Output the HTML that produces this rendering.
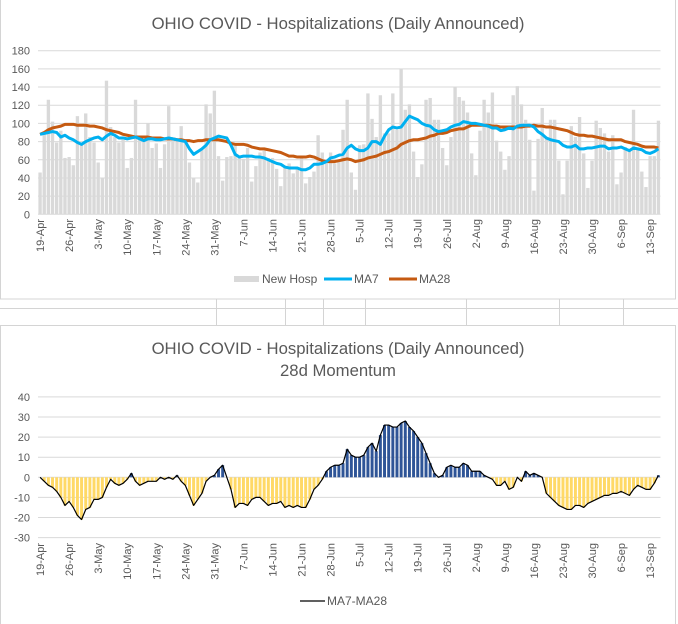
<!DOCTYPE html>
<html><head><meta charset="utf-8"><style>
body{margin:0;background:#fff;width:678px;height:624px;overflow:hidden;font-family:"Liberation Sans",sans-serif}
svg{display:block}
text{font-family:"Liberation Sans",sans-serif}
</style></head><body>
<svg id="s" width="678" height="624">
<g stroke="#d4d4d4" stroke-width="1">
<line x1="0" y1="308.5" x2="678" y2="308.5"/>
<line x1="216.5" y1="299" x2="216.5" y2="325"/><line x1="285.5" y1="299" x2="285.5" y2="325"/>
<line x1="323.5" y1="299" x2="323.5" y2="325"/><line x1="365.5" y1="299" x2="365.5" y2="325"/>
<line x1="466.5" y1="299" x2="466.5" y2="325"/><line x1="559.5" y1="299" x2="559.5" y2="325"/>
<line x1="623.5" y1="299" x2="623.5" y2="325"/>
</g>
<rect x="0.5" y="-1" width="675" height="300" fill="#fff" stroke="#d4d4d4"/>
<rect x="0.5" y="325.5" width="675" height="300" fill="#fff" stroke="#d4d4d4"/>
<text x="338" y="29" text-anchor="middle" font-size="16.7" fill="#595959">OHIO COVID - Hospitalizations (Daily Announced)</text>
<text x="338" y="354" text-anchor="middle" font-size="16.7" fill="#595959">OHIO COVID - Hospitalizations (Daily Announced)</text>
<text x="338" y="376" text-anchor="middle" font-size="16.7" fill="#595959">28d Momentum</text>
<g id="topg"></g>
<g id="botg"></g>
<g>
<rect x="234" y="276" width="25" height="6" fill="#d9d9d9"/>
<text x="262" y="283" font-size="12" fill="#595959">New Hosp</text>
<line x1="324" y1="279" x2="352" y2="279" stroke="#00b0f0" stroke-width="3"/>
<text x="354" y="283" font-size="12" fill="#595959">MA7</text>
<line x1="389" y1="279" x2="417" y2="279" stroke="#c55a11" stroke-width="3"/>
<text x="419" y="283" font-size="12" fill="#595959">MA28</text>
</g>
<g>
<line x1="300" y1="601" x2="325" y2="601" stroke="#000" stroke-width="1.2"/>
<text x="327" y="605" font-size="12" fill="#595959">MA7-MA28</text>
</g>
</svg>
<script>
const newHosp=[46,88,126,102,79,92,62,63,54,108,78,111,85,79,57,40,147,96,85,79,82,51,62,126,82,80,100,73,78,51,77,119,83,83,97,82,57,40,35,72,121,111,136,64,37,63,64,77,62,61,73,36,53,68,70,62,62,50,31,53,56,45,50,62,34,41,47,87,68,56,68,56,60,93,126,46,27,76,77,133,105,85,131,89,89,133,93,160,115,121,69,41,55,126,128,104,104,73,54,85,140,129,125,112,67,43,92,126,112,134,81,69,49,64,131,141,121,104,82,26,83,117,85,104,104,59,22,59,97,85,107,67,29,59,103,95,89,69,87,33,46,74,71,115,71,47,30,64,64,103];
const ma7=[88,89,90,91,90,85,87,84,82,79,77,80,82,84,85,82,86,89,87,84,84,83,84,85,83,81,83,83,82,82,83,84,83,82,81,80,72,66,69,72,76,82,84,86,85,84,76,66,63,64,64,64,63,63,62,60,58,56,55,52,51,51,51,49,49,51,55,55,56,58,62,63,65,66,73,76,72,70,70,73,80,80,77,86,93,96,95,96,102,108,106,104,100,98,97,93,91,92,93,96,98,99,102,101,100,100,99,98,97,95,95,92,93,95,94,97,98,98,98,96,91,88,84,82,81,80,76,74,74,76,72,72,73,73,74,75,75,72,73,73,74,72,70,73,72,71,68,67,69,72];
const ma28=[88,90,93,95,96,97,99,99,99,98,98,98,97,97,96,95,93,92,91,90,88,87,86,85,85,85,85,84,84,84,83,83,83,82,82,81,81,80,81,81,82,82,82,82,81,80,78,77,77,77,76,74,73,72,72,71,70,69,68,66,64,64,63,63,63,64,63,61,59,58,58,58,59,60,61,60,58,59,60,62,63,64,66,68,69,71,73,77,79,81,82,82,83,84,86,87,89,89,90,92,93,94,94,96,98,98,98,98,98,97,97,96,96,96,96,96,96,97,97,98,97,97,96,96,95,94,93,92,90,88,87,87,86,86,85,84,83,82,82,82,82,80,79,78,77,75,74,74,74,73];
const momentum=[0,-2,-4,-5,-7,-10,-14,-12,-15,-19,-21,-16,-15,-11,-11,-10,-5,-1,-3,-4,-3,-1,2,-2,-4,-3,-2,-2,-2,0,-1,0,-1,1,-2,-4,-9,-14,-11,-8,-2,0,1,4,6,0,-6,-15,-13,-13,-14,-11,-10,-10,-12,-14,-13,-13,-12,-15,-14,-15,-14,-15,-15,-11,-6,-4,-1,3,5,6,6,7,14,11,10,10,11,15,17,13,21,26,26,25,25,27,28,25,23,20,17,12,7,2,0,1,5,6,5,5,7,6,3,3,3,1,0,-1,-4,-4,-2,-6,-5,0,-2,3,1,2,1,0,-8,-10,-12,-14,-15,-16,-16,-14,-14,-15,-13,-12,-11,-10,-9,-9,-8,-8,-7,-8,-9,-6,-4,-5,-6,-6,-3,1];
const dateLabels=["19-Apr","26-Apr","3-May","10-May","17-May","24-May","31-May","7-Jun","14-Jun","21-Jun","28-Jun","5-Jul","12-Jul","19-Jul","26-Jul","2-Aug","9-Aug","16-Aug","23-Aug","30-Aug","6-Sep","13-Sep"];
const topTicks=[0,20,40,60,80,100,120,140,160,180];
const botTicks=[-30,-20,-10,0,10,20,30,40];

const NS="http://www.w3.org/2000/svg";
const X0=38,X1=660.5,N=newHosp.length,W=(X1-X0)/N;
function xc(i){return X0+(i+0.5)*W;}
function yTop(v){return 214.3-(v-0)*(214.3-50.7)/180;}
function yBot(v){return 477.3-v*2.01;}
function mk(p,tag,a){const e=document.createElementNS(NS,tag);for(const k in a)e.setAttribute(k,a[k]);p.appendChild(e);return e;}

function axes(g,ticks,yf,labY,name){
  ticks.forEach(t=>{
    const l=mk(g,'line',{x1:X0,x2:X1,y1:yf(t),y2:yf(t),stroke:'#d9d9d9','stroke-width':1});
    
    
    const tx=mk(g,'text',{x:30,y:yf(t)+4,'text-anchor':'end','font-size':11,fill:'#595959'});
    tx.textContent=t;
    
    
  });
  dateLabels.forEach((d,k)=>{
    const x=xc(k*7)+4;
    const tx=mk(g,'text',{x:x,y:labY,'text-anchor':'end','font-size':11,fill:'#595959',transform:`rotate(-90 ${x} ${labY})`});
    tx.textContent=d;
    
    
  });
}

const topG=document.getElementById('topg');
axes(topG,topTicks,yTop,219,'top');
newHosp.forEach((v,i)=>{
  const r=mk(topG,'rect',{x:X0+i*W+0.4,y:yTop(v),width:W-0.8,height:yTop(0)-yTop(v),fill:'#d9d9d9'});
  
  
});
function line(g,arr,yf,col,w,name){
  const p=mk(g,'polyline',{points:arr.map((v,i)=>xc(i)+','+yf(v)).join(' '),fill:'none',stroke:col,'stroke-width':w,'stroke-linejoin':'round'});
  
  
}
line(topG,ma28,yTop,'#c55a11',3,'ma28-line');
line(topG,ma7,yTop,'#00b0f0',3,'ma7-line');

const botG=document.getElementById('botg');
axes(botG,botTicks,yBot,543,'bottom');
momentum.forEach((v,i)=>{
  const y0=yBot(0),y1=yBot(v);
  const r=mk(botG,'rect',{x:X0+i*W+0.6,y:Math.min(y0,y1),width:W-1.2,height:Math.abs(y1-y0),fill:v>=0?'#2f5597':'#ffd966'});
  
  
});
line(botG,momentum,yBot,'#000',1.2,'momentum-line');
</script>
</body></html>
